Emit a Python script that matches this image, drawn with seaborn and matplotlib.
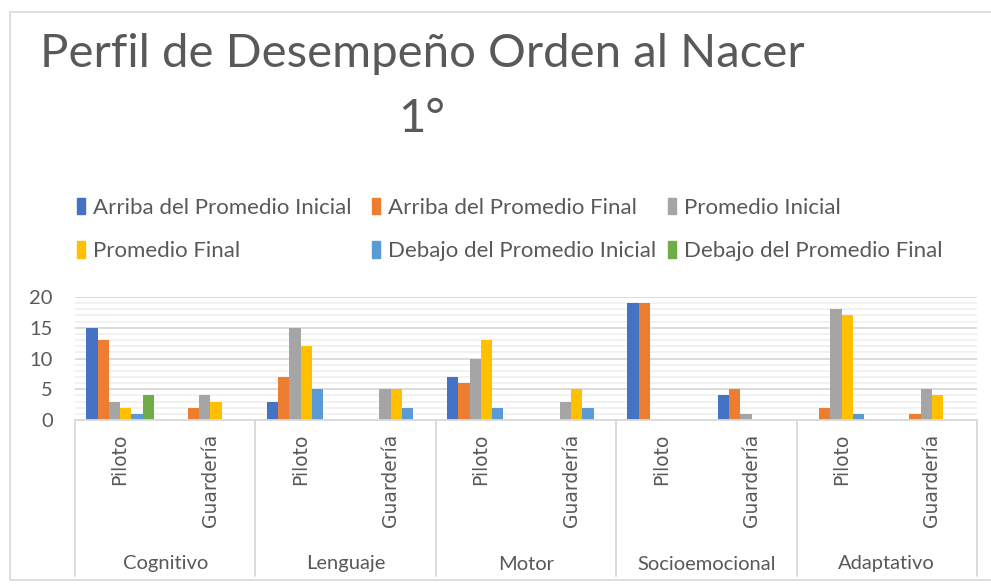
import pandas as pd
import matplotlib.pyplot as plt
import seaborn as sns
from matplotlib.ticker import MultipleLocator
from matplotlib.transforms import blended_transform_factory
from matplotlib.patches import Rectangle

# areas and groups
areas = ["Cognitivo", "Lenguaje", "Motor", "Socioemocional", "Adaptativo"]
grupos = ["Piloto", "Guardería"]
series = ["Arriba del Promedio Inicial", "Arriba del Promedio Final",
          "Promedio Inicial", "Promedio Final",
          "Debajo del Promedio Inicial", "Debajo del Promedio Final"]
colores = ["#4472C4", "#ED7D31", "#A5A5A5", "#FFC000", "#5B9BD5", "#70AD47"]

# one list per series, order: area x grupo (Piloto, Guardería)
arriba_ini = [15, 0, 3, 0, 7, 0, 19, 4, 0, 0]
arriba_fin = [13, 2, 7, 0, 6, 0, 19, 5, 2, 1]
prom_ini = [3, 4, 15, 5, 10, 3, 0, 1, 18, 5]
prom_fin = [2, 3, 12, 5, 13, 5, 0, 0, 17, 4]
debajo_ini = [1, 0, 5, 2, 2, 2, 0, 0, 1, 0]
debajo_fin = [4, 0, 0, 0, 0, 0, 0, 0, 0, 0]

valores = [arriba_ini, arriba_fin, prom_ini, prom_fin, debajo_ini, debajo_fin]
slots = [f"{a}|{g}" for a in areas for g in grupos]

rows = []
for s, vals in zip(series, valores):
    for slot, v in zip(slots, vals):
        rows.append({"slot": slot, "serie": s, "valor": v})
df = pd.DataFrame(rows)

sns.set_style("white")
plt.rcParams['font.family'] = ['Lato', 'DejaVu Sans']
gris = "#595959"

fig = plt.figure(figsize=(9.91, 5.85), dpi=100)
ax = fig.add_axes([75 / 991, 1 - 420 / 585, (977 - 75) / 991, 123 / 585])

sns.barplot(data=df, x="slot", y="valor", hue="serie", order=slots,
            hue_order=series, palette=colores, width=0.75, ax=ax,
            legend=False, saturation=1, linewidth=0)

ax.set_xlim(-0.5, len(slots) - 0.5)
ax.set_ylim(0, 20)
ax.yaxis.set_major_locator(MultipleLocator(5))
ax.yaxis.set_minor_locator(MultipleLocator(1))
ax.grid(axis="y", which="major", color="#d9d9d9", lw=1.3)
ax.grid(axis="y", which="minor", color="#f0f0f0", lw=1.3)
ax.set_axisbelow(True)
ax.tick_params(axis="y", which="both", length=0, labelsize=14.5, colors=gris, pad=16)
ax.tick_params(axis="x", length=0)
ax.set_xticklabels([])
ax.set_xlabel("")
ax.set_ylabel("")
for side in ["top", "right", "left"]:
    ax.spines[side].set_visible(False)
ax.spines["bottom"].set_color("#d9d9d9")
ax.spines["bottom"].set_linewidth(1.3)

# category labels below axis
tr = blended_transform_factory(ax.transData, fig.transFigure)
for i, slot in enumerate(slots):
    g = slot.split("|")[1]
    ax.text(i, 1 - 434 / 585, g, transform=tr, rotation=90, ha="center", va="top",
            fontsize=13.5, color=gris, family="DejaVu Sans")
for j, a in enumerate(areas):
    ax.text(2 * j + 0.5, 1 - 564 / 585, a, transform=tr, ha="center", va="center",
            fontsize=14.5, color=gris)
for k in range(len(areas) + 1):
    ax.plot([2 * k - 0.5] * 2, [1 - 420 / 585, 1 - 576 / 585], transform=tr,
            color="#d9d9d9", lw=1.3, clip_on=False)

# title
fig.text(422 / 991, 1 - 67 / 585, "Perfil de Desempeño Orden al Nacer",
         ha="center", va="baseline", fontsize=34, color=gris)
fig.text(422 / 991, 1 - 132 / 585, "1°",
         ha="center", va="baseline", fontsize=34, color=gris)

# legend: three columns placed like the original
handles = [Rectangle((0, 0), 1, 1, color=c) for c in colores]
col_x = [68, 363, 659]
for c in range(3):
    idx = [c, c + 3]
    fig.legend([handles[i] for i in idx], [series[i] for i in idx],
               loc="upper left", bbox_to_anchor=(col_x[c] / 991, 1 - 189 / 585),
               ncol=1, frameon=False, fontsize=16, labelcolor=gris,
               handlelength=0.36, handleheight=0.75, handletextpad=0.35,
               labelspacing=1.05, borderaxespad=0)

# chart border
fig.patches.append(Rectangle((10 / 991, 1 - 580 / 585), 990 / 991, 568 / 585,
                             transform=fig.transFigure, fill=False,
                             edgecolor="#d9d9d9", lw=1.2))

fig.savefig("out.png", dpi=100)
